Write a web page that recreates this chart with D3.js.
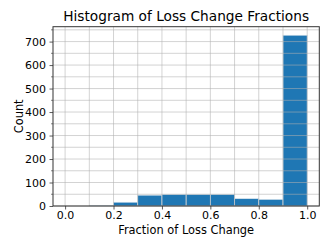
<!DOCTYPE html>
<html>
<head>
<meta charset="utf-8">
<script src="https://cdn.jsdelivr.net/npm/d3@7"></script>
<style>
  body { margin: 0; background: #fff; }
  text { font-family: "DejaVu Sans", sans-serif; fill: #000; }
</style>
</head>
<body>
<svg id="chart"></svg>
<script>
var width = 332;
var height = 249;

var margin = {top: 26.7, right: 12.7, bottom: 43, left: 53};

// bin edges and counts
var binStarts = [0.0, 0.1, 0.2, 0.3, 0.4, 0.5, 0.6, 0.7, 0.8, 0.9];
var counts = [0, 3, 16, 46, 49, 49, 49, 31, 28, 727];
var binWidth = 0.1;

var xTicks = [0.0, 0.2, 0.4, 0.6, 0.8, 1.0];
var xGrid = [0.0, 0.1, 0.2, 0.3, 0.4, 0.5, 0.6, 0.7, 0.8, 0.9, 1.0];
var yTicks = [0, 100, 200, 300, 400, 500, 600, 700];
var yMinor = [50, 150, 250, 350, 450, 550, 650, 750];

var w = width - margin.left - margin.right;
var h = height - margin.top - margin.bottom;

var svg = d3.select('#chart')
    .attr('width', width)
    .attr('height', height);

var g = svg.append('g')
    .attr('transform', 'translate(' + margin.left + ',' + margin.top + ')');

var x = d3.scaleLinear().domain([-0.05, 1.05]).range([0, w]);
var ymax = d3.max(counts) * 1.05;
var y = d3.scaleLinear().domain([0, ymax]).range([h, 0]);

// bars
g.selectAll('rect.bar')
    .data(binStarts)
    .enter().append('rect')
    .attr('class', 'bar')
    .attr('x', function(d) { return x(d); })
    .attr('width', function(d) { return x(d + binWidth) - x(d); })
    .attr('y', function(d, i) { return y(counts[i]); })
    .attr('height', function(d, i) { return y(0) - y(counts[i]); })
    .attr('fill', '#1f77b4')
    .attr('stroke', '#dce6ee')
    .attr('stroke-width', 0.6);

// grid on top of bars
var grid = g.append('g').attr('class', 'grid');
grid.selectAll('line.gx')
    .data(xGrid)
    .enter().append('line')
    .attr('x1', function(d) { return x(d); })
    .attr('x2', function(d) { return x(d); })
    .attr('y1', 0).attr('y2', h)
    .attr('stroke', '#b0b0b0').attr('stroke-opacity', 0.7).attr('stroke-width', 0.8);
grid.selectAll('line.gy')
    .data(yTicks.concat(yMinor).filter(function(d) { return d < ymax; }))
    .enter().append('line')
    .attr('y1', function(d) { return y(d); })
    .attr('y2', function(d) { return y(d); })
    .attr('x1', 0).attr('x2', w)
    .attr('stroke', '#b0b0b0').attr('stroke-opacity', 0.7).attr('stroke-width', 0.8);

// axes
var xAxis = d3.axisBottom(x).tickValues(xTicks).tickFormat(d3.format('.1f')).tickSize(3.5).tickPadding(2);
var yAxis = d3.axisLeft(y).tickValues(yTicks).tickFormat(d3.format('d')).tickSize(3.5).tickPadding(3.5);

var gx = g.append('g')
    .attr('transform', 'translate(0,' + h + ')')
    .call(xAxis);
var gy = g.append('g').call(yAxis);

// minor y ticks
g.append('g').selectAll('line')
    .data(yMinor.filter(function(d) { return d < ymax; }))
    .enter().append('line')
    .attr('x1', -2).attr('x2', 0)
    .attr('y1', function(d) { return y(d); })
    .attr('y2', function(d) { return y(d); })
    .attr('stroke', '#333').attr('stroke-width', 0.6);

[gx, gy].forEach(function(a) {
    a.select('.domain').remove();
    a.selectAll('line').attr('stroke', '#333').attr('stroke-width', 0.8);
    a.selectAll('text').style('font-family', '"DejaVu Sans", sans-serif').style('font-size', '11px').attr('fill', '#000');
});

// frame
g.append('rect')
    .attr('width', w).attr('height', h)
    .attr('fill', 'none')
    .attr('stroke', '#333').attr('stroke-width', 1);

// titles
svg.append('text')
    .attr('x', margin.left + w / 2)
    .attr('y', 21)
    .attr('text-anchor', 'middle')
    .style('font-size', '13.7px')
    .text('Histogram of Loss Change Fractions');

svg.append('text')
    .attr('x', margin.left + w / 2)
    .attr('y', 234)
    .attr('text-anchor', 'middle')
    .style('font-size', '11.4px')
    .text('Fraction of Loss Change');

svg.append('text')
    .attr('transform', 'translate(22.5,' + (margin.top + h / 2) + ') rotate(-90)')
    .attr('text-anchor', 'middle')
    .style('font-size', '11.4px')
    .text('Count');
</script>
</body>
</html>
